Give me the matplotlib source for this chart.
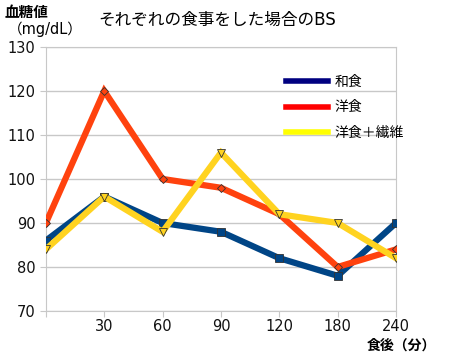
import matplotlib
matplotlib.use("Agg")
import matplotlib.pyplot as plt
from matplotlib.lines import Line2D

plt.rcParams["font.family"] = ["DejaVu Sans", "Noto Sans CJK JP"]

x_labels = ["", "30", "60", "90", "120", "180", "240"]
washoku = [86, 96, 90, 88, 82, 78, 90]
yoshoku = [90, 120, 100, 98, 92, 80, 84]
yoshoku_fiber = [84, 96, 88, 106, 92, 90, 82]

series = [
    ("和食", washoku, "#004586", "s", "#000080"),
    ("洋食", yoshoku, "#ff420e", "D", "#ff0000"),
    ("洋食＋繊維", yoshoku_fiber, "#ffd320", "v", "#ffff00"),
]

fig = plt.figure(figsize=(4.5, 3.53), dpi=100)
ax = fig.add_axes([0.102, 0.119, 0.778, 0.748])

xs = range(len(x_labels))
for name, values, color, marker, _ in series:
    ms = 6 if marker == "s" else (4.5 if marker == "D" else 6)
    ax.plot(xs, values, color=color, linewidth=4.5, marker=marker,
            markersize=ms, markerfacecolor=color, markeredgecolor="#333333",
            markeredgewidth=0.6, solid_joinstyle="miter", zorder=3)

ax.set_xlim(0, len(x_labels) - 1)
ax.set_ylim(70, 130)
ax.set_yticks(range(70, 131, 10))
ax.set_xticks(list(xs))
ax.set_xticklabels(x_labels)
ax.grid(axis="y", color="#c8c8c8", linewidth=1.0)
ax.set_axisbelow(True)
for spine in ax.spines.values():
    spine.set_color("#c8c8c8")
ax.tick_params(axis="both", colors="#c8c8c8", labelcolor="#111111",
               labelsize=10.5, length=4)
ax.tick_params(axis="x", pad=2)

handles = [Line2D([0], [0], color=lc, linewidth=4) for _, _, _, _, lc in series]
ax.legend(handles, [s[0] for s in series], loc="upper left",
          bbox_to_anchor=(0.65, 0.94), frameon=False, fontsize=10,
          handlelength=3.0, handletextpad=0.5, labelspacing=0.8)

fig.text(0.483, 0.943, "それぞれの食事をした場合のBS", ha="center", va="center",
         fontsize=12)
fig.text(0.01, 0.965, "血糖値", ha="left", va="center", fontsize=10.5,
         fontweight="bold")
fig.text(0.018, 0.918, "（mg/dL）", ha="left", va="center", fontsize=10.5)
fig.text(0.968, 0.022, "食後（分）", ha="right", va="center", fontsize=10,
         fontweight="bold")

fig.savefig("out.png", dpi=100)
